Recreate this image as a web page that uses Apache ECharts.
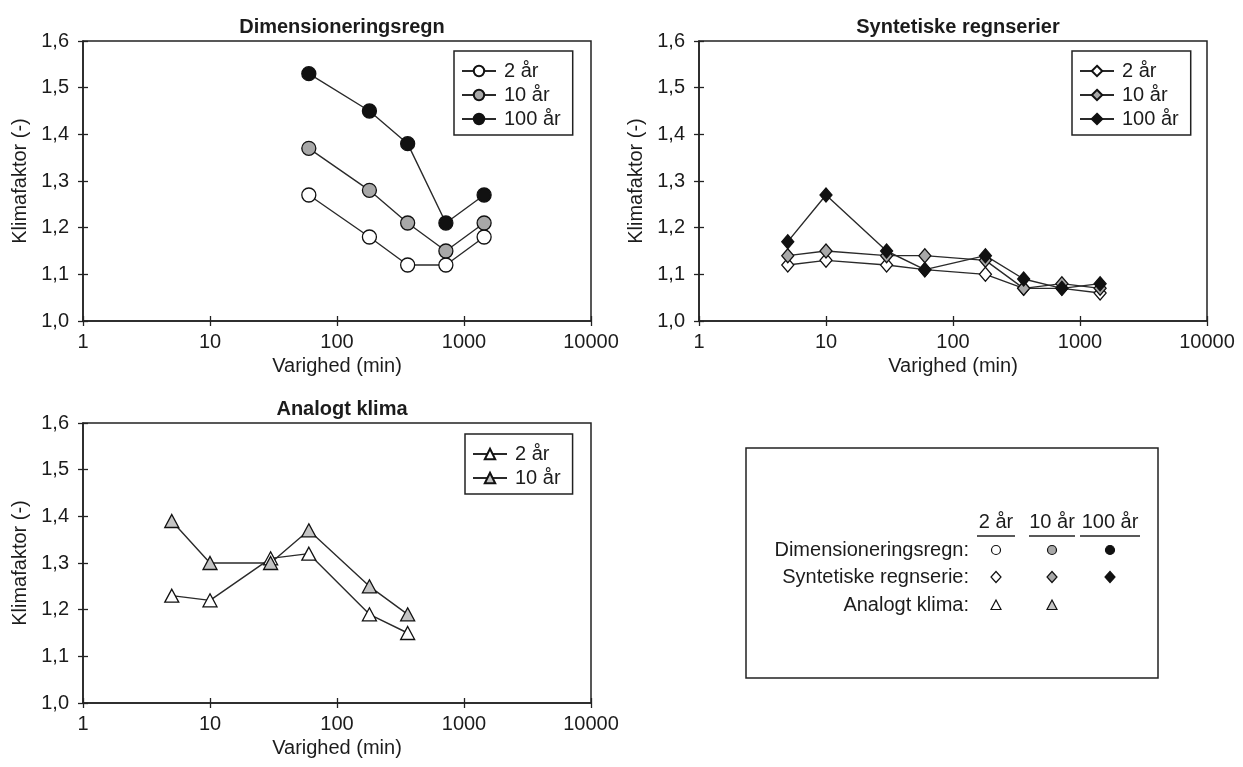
<!DOCTYPE html>
<html>
<head>
<meta charset="utf-8">
<script src="https://cdn.jsdelivr.net/npm/echarts@6/dist/echarts.min.js"></script>
<style>
html, body { margin: 0; padding: 0; background: #fff; }
#chart { width: 1243px; height: 767px; }
</style>
</head>
<body>
<div id="chart"></div>
<script>
// varighed (min) for hver figur
const durDim = [60, 180, 360, 720, 1440];
const durSyn = [5, 10, 30, 60, 180, 360, 720, 1440];
const durAna = [5, 10, 30, 60, 180, 360];

// klimafaktorer
const dim2 = [1.27, 1.18, 1.12, 1.12, 1.18];
const dim10 = [1.37, 1.28, 1.21, 1.15, 1.21];
const dim100 = [1.53, 1.45, 1.38, 1.21, 1.27];

const syn2 = [1.12, 1.13, 1.12, 1.11, 1.10, 1.07, 1.07, 1.06];
const syn10 = [1.14, 1.15, 1.14, 1.14, 1.13, 1.07, 1.08, 1.07];
const syn100 = [1.17, 1.27, 1.15, 1.11, 1.14, 1.09, 1.07, 1.08];

const ana2 = [1.23, 1.22, 1.31, 1.32, 1.19, 1.15];
const ana10 = [1.39, 1.30, 1.30, 1.37, 1.25, 1.19];

const titles = ['Dimensioneringsregn', 'Syntetiske regnserier', 'Analogt klima'];
const periods = ['2 år', '10 år', '100 år'];
const fills = ['#ffffff', '#a8a8a8', '#111111'];
const xTicks = [1, 10, 100, 1000, 10000];

const FONT = '"Liberation Sans", Arial, sans-serif';
const INK = '#1c1c1c';
const FS = 20;

const grids = [
    { left: 83, top: 41, width: 508, height: 280 },
    { left: 699, top: 41, width: 508, height: 280 },
    { left: 83, top: 423, width: 508, height: 280 }
];

function pairs(xs, ys) {
    return xs.map((x, i) => [x, ys[i]]);
}

const xAxes = [];
const yAxes = [];
grids.forEach((g, i) => {
    xAxes.push({
        gridIndex: i, type: 'log', logBase: 10, min: xTicks[0], max: xTicks[xTicks.length - 1],
        position: 'bottom',
        name: 'Varighed (min)', nameLocation: 'middle', nameGap: 35,
        nameTextStyle: { fontFamily: FONT, fontSize: FS, color: INK },
        axisLine: { lineStyle: { color: '#222', width: 1.5 } },
        axisTick: { show: true, inside: false, length: 5, lineStyle: { color: '#222', width: 1.3 } },
        axisLabel: { margin: 11, fontFamily: FONT, fontSize: FS, color: INK, formatter: v => String(Math.round(v)) },
        splitLine: { show: false }
    });
    xAxes.push({
        gridIndex: i, type: 'log', logBase: 10, min: xTicks[0], max: xTicks[xTicks.length - 1],
        position: 'bottom',
        axisLine: { show: false },
        axisTick: { show: true, inside: true, length: 5, lineStyle: { color: '#222', width: 1.3 } },
        axisLabel: { show: false },
        splitLine: { show: false }
    });
    yAxes.push({
        gridIndex: i, type: 'value', min: 1.0, max: 1.6, interval: 0.1,
        position: 'left',
        name: 'Klimafaktor (-)', nameLocation: 'middle', nameGap: 53,
        nameTextStyle: { fontFamily: FONT, fontSize: FS, color: INK },
        axisLine: { show: true, lineStyle: { color: '#222', width: 1.5 } },
        axisTick: { show: true, inside: false, length: 5, lineStyle: { color: '#222', width: 1.3 } },
        axisLabel: { margin: 14, fontFamily: FONT, fontSize: FS, color: INK, formatter: v => v.toFixed(1).replace('.', ',') },
        splitLine: { show: false }
    });
    yAxes.push({
        gridIndex: i, type: 'value', min: 1.0, max: 1.6, interval: 0.1,
        position: 'left',
        axisLine: { show: false },
        axisTick: { show: true, inside: true, length: 5, lineStyle: { color: '#222', width: 1.3 } },
        axisLabel: { show: false },
        splitLine: { show: false }
    });
});

function lineSeries(key, period, chart, symbol, size, fill, xs, ys) {
    return {
        name: key + '|' + period,
        type: 'line',
        xAxisIndex: chart * 2,
        yAxisIndex: chart * 2,
        data: pairs(xs, ys),
        symbol: symbol,
        symbolSize: size,
        showAllSymbol: true,
        animation: false,
        lineStyle: { color: '#2a2a2a', width: 1.4 },
        itemStyle: { color: fill, borderColor: '#111', borderWidth: 1.3 },
        z: 3
    };
}

const series = [
    lineSeries('dim', periods[0], 0, 'circle', 14, fills[0], durDim, dim2),
    lineSeries('dim', periods[1], 0, 'circle', 14, fills[1], durDim, dim10),
    lineSeries('dim', periods[2], 0, 'circle', 14, fills[2], durDim, dim100),
    lineSeries('syn', periods[0], 1, 'diamond', [12, 14], fills[0], durSyn, syn2),
    lineSeries('syn', periods[1], 1, 'diamond', [12, 14], fills[1], durSyn, syn10),
    lineSeries('syn', periods[2], 1, 'diamond', [12, 14], fills[2], durSyn, syn100),
    lineSeries('ana', periods[0], 2, 'triangle', [14, 13], '#ffffff', durAna, ana2),
    lineSeries('ana', periods[1], 2, 'triangle', [14, 13], '#c4c4c4', durAna, ana10)
];

function legendFor(key, n, left, top) {
    return {
        data: periods.slice(0, n).map(p => key + '|' + p),
        orient: 'vertical',
        left: left, top: top,
        itemWidth: 34, itemHeight: 13, itemGap: 4,
        padding: [10, 12, 6, 7],
        borderColor: '#222', borderWidth: 1.5,
        selectedMode: false,
        formatter: name => name.split('|')[1],
        textStyle: { fontFamily: FONT, fontSize: FS, lineHeight: 20, color: INK, padding: [0, 0, 0, 3] }
    };
}

const titleOpts = [
    { text: titles[0], left: 337, top: 12 },
    { text: titles[1], left: 953, top: 12 },
    { text: titles[2], left: 337, top: 394 }
].map(t => ({
    text: t.text, left: t.left, top: t.top, textAlign: 'center',
    textStyle: { fontFamily: FONT, fontSize: 20, fontWeight: 'bold', color: INK }
}));

// samlet signaturforklaring nederst til højre
const boxX = 746, boxY = 448, colX = [996, 1052, 1110], rowY = [550, 577, 605];
const rowNames = ['Dimensioneringsregn:', 'Syntetiske regnserie:', 'Analogt klima:'];
const txt = { fontFamily: FONT, fontSize: FS, fill: INK };
const graphics = [
    { type: 'rect', shape: { x: boxX, y: boxY, width: 412, height: 230 }, style: { fill: 'none', stroke: '#222', lineWidth: 1.5 } }
];
periods.forEach((p, i) => {
    graphics.push({ type: 'text', x: colX[i], y: 522, style: Object.assign({ text: p, align: 'center', verticalAlign: 'middle' }, txt) });
    const w = i === 2 ? 60 : (i === 1 ? 46 : 38);
    graphics.push({ type: 'line', shape: { x1: colX[i] - w / 2, y1: 536, x2: colX[i] + w / 2, y2: 536 }, style: { stroke: '#222', lineWidth: 1.3 } });
});
rowNames.forEach((r, i) => {
    graphics.push({ type: 'text', x: 969, y: rowY[i], style: Object.assign({ text: r, align: 'right', verticalAlign: 'middle' }, txt) });
});
fills.forEach((f, i) => {
    graphics.push({ type: 'circle', shape: { cx: colX[i], cy: rowY[0], r: 4.5 }, style: { fill: f, stroke: '#111', lineWidth: 1.2 } });
    const cy = rowY[1];
    graphics.push({ type: 'polygon', shape: { points: [[colX[i], cy - 5.5], [colX[i] + 5, cy], [colX[i], cy + 5.5], [colX[i] - 5, cy]] }, style: { fill: f, stroke: '#111', lineWidth: 1.2 } });
});
['#ffffff', '#c4c4c4'].forEach((f, i) => {
    const cy = rowY[2];
    graphics.push({ type: 'polygon', shape: { points: [[colX[i], cy - 5], [colX[i] + 5, cy + 4.5], [colX[i] - 5, cy + 4.5]] }, style: { fill: f, stroke: '#111', lineWidth: 1.2 } });
});

const option = {
    backgroundColor: '#ffffff',
    animation: false,
    title: titleOpts,
    grid: grids.map(g => Object.assign({ show: true, borderColor: '#222', borderWidth: 1.5, backgroundColor: 'transparent' }, g)),
    xAxis: xAxes,
    yAxis: yAxes,
    legend: [
        legendFor('dim', 3, 454, 51),
        legendFor('syn', 3, 1072, 51),
        legendFor('ana', 2, 465, 434)
    ],
    series: series,
    graphic: graphics
};

const myChart = echarts.init(document.getElementById('chart'));
myChart.setOption(option);
</script>
</body>
</html>
